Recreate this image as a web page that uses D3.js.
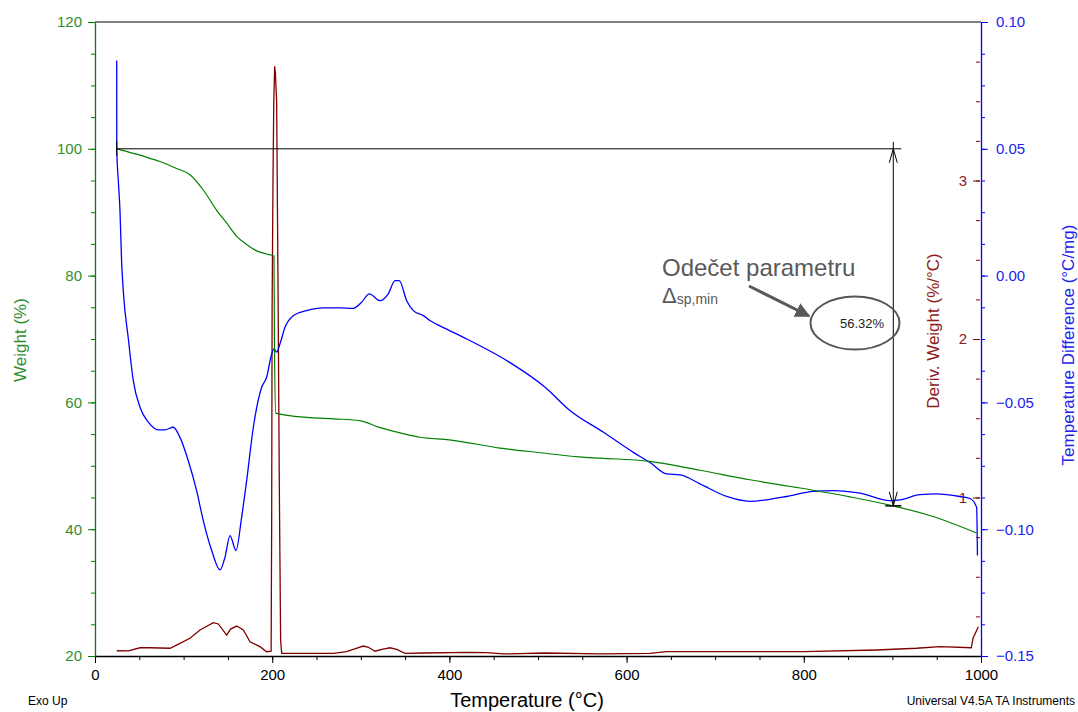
<!DOCTYPE html>
<html>
<head>
<meta charset="utf-8">
<script src="https://cdn.jsdelivr.net/npm/d3@7/dist/d3.min.js"></script>
<style>
  html, body { margin: 0; padding: 0; background: #fff; }
  svg { display: block; font-family: "Liberation Sans", Arial, sans-serif; }
</style>
</head>
<body>
<svg id="chart" width="1078" height="712"></svg>
<script>
// ---------------- DATA ----------------
const weightT = [24.5, 30, 40, 50.8, 62, 73.4, 92.2, 107.2, 122.2, 137.3, 148.6, 159.9, 169.3, 182.5, 193.7, 202, 202.5, 204, 215, 242.7, 270, 300, 320, 350, 367, 400, 457, 500, 547, 570, 626, 683, 739, 796, 852, 897, 946, 995];
const weightV = [100, 99.8, 99.4, 99.0, 98.5, 98.0, 96.9, 95.9, 93.5, 90.3, 88.3, 86.2, 85.1, 83.9, 83.4, 83.1, 70, 58.3, 58.0, 57.6, 57.4, 57.1, 56.1, 55.0, 54.5, 54.1, 52.8, 52.1, 51.4, 51.2, 50.7, 49.3, 47.8, 46.5, 45.1, 43.8, 42.0, 39.4];

const tdT = [24.5, 24.6, 26.3, 28.2, 30, 31.9, 37.6, 43.2, 50.8, 60.2, 71.4, 79, 88.4, 95.9, 105.3, 114.7, 122.2, 131.7, 141.1, 146.7, 152.4, 159.1, 165.5, 171.2, 178.7, 188.1, 193.7, 199.4, 202, 205, 208.8, 214.4, 223.8, 238.8, 257.7, 276.5, 291.5, 300.9, 309.6, 321.7, 331, 338.6, 343.4, 351.8, 359.3, 370.6, 378, 397, 423, 468, 508, 536, 574, 607.6, 626.4, 645.2, 660.3, 682.8, 712.9, 739.3, 758.1, 780.7, 810.8, 833.3, 863.4, 897.3, 908.6, 931.2, 950, 976, 987.6, 995.1, 996];
const tdV = [0.0848, 0.0493, 0.0375, 0.0256, 0.0059, -0.0059, -0.0248, -0.0414, -0.0519, -0.0578, -0.0608, -0.0608, -0.0598, -0.0638, -0.0730, -0.0848, -0.0966, -0.1084, -0.1160, -0.1111, -0.1025, -0.1084, -0.0953, -0.0808, -0.0598, -0.0440, -0.0401, -0.0309, -0.0289, -0.0302, -0.0269, -0.0204, -0.0158, -0.0138, -0.0127, -0.0127, -0.0129, -0.0105, -0.0072, -0.0099, -0.0072, -0.0020, -0.0020, -0.0099, -0.0138, -0.0158, -0.0177, -0.0211, -0.0256, -0.0342, -0.0440, -0.0532, -0.0618, -0.0697, -0.0737, -0.0782, -0.0786, -0.0821, -0.0871, -0.0890, -0.0884, -0.0871, -0.0851, -0.0848, -0.0858, -0.0887, -0.0884, -0.0864, -0.0861, -0.0871, -0.0879, -0.0914, -0.1104];

const derivT = [24.5, 37.6, 50.8, 62, 84.7, 95.9, 107.2, 118.5, 133.5, 139.2, 148.6, 153, 159.9, 167.4, 175, 186.2, 193.7, 198.8, 199.4, 199.9, 200.9, 201.8, 202.8, 203.6, 205, 206.5, 208, 209.5, 210.7, 269, 284, 291.5, 302.8, 308.5, 316, 325, 333, 340.5, 350, 370.6, 419.5, 442, 461, 508, 570, 626, 645, 800, 882, 927, 954, 989, 991, 997];
const derivV = [0.033, 0.032, 0.052, 0.052, 0.049, 0.080, 0.112, 0.164, 0.210, 0.202, 0.132, 0.17, 0.189, 0.164, 0.090, 0.059, 0.027, 0.03, 0.84, 2.2, 3.0, 3.5, 3.72, 3.68, 3.5, 2.4, 1.1, 0.1, 0.017, 0.017, 0.027, 0.042, 0.063, 0.055, 0.030, 0.044, 0.052, 0.042, 0.017, 0.019, 0.023, 0.021, 0.013, 0.019, 0.013, 0.017, 0.027, 0.027, 0.038, 0.049, 0.059, 0.052, 0.112, 0.185];

const xTicks = [0, 200, 400, 600, 800, 1000];
const weightTicks = [20, 40, 60, 80, 100, 120];
const tdTicks = [-0.15, -0.10, -0.05, 0.00, 0.05, 0.10];
const derivTicks = [1, 2, 3];

// ---------------- SETUP ----------------
const svg = d3.select("#chart");
const L = 95, R = 981, T = 22, B = 656;
const x = d3.scaleLinear([0, 1000], [L, R]);
const yW = d3.scaleLinear([20, 120], [B, T]);
const yT = d3.scaleLinear([-0.15, 0.10], [B, T]);
const yD = d3.scaleLinear([0, 4], [B, T]);

const GREEN = "#008000", GREEN_TXT = "#2f8f2f";
const BLUE = "#0000ff", BLUE_TXT = "#2222ee";
const RED = "#800000", RED_TXT = "#8b2020";

// top frame line
svg.append("line").attr("x1", L).attr("x2", R).attr("y1", T).attr("y2", T)
  .attr("stroke", "#000").attr("stroke-width", 1);

// ---------------- AXES ----------------
function styleAxis(g, color, txtColor, fs) {
  g.select(".domain").attr("stroke", color).attr("stroke-width", 1.3);
  g.selectAll(".tick line").attr("stroke", color);
  g.selectAll(".tick text").attr("fill", txtColor).attr("font-size", fs)
    .attr("font-family", "Liberation Sans, Arial, sans-serif");
}

const gxMinor = svg.append("g").attr("transform", `translate(0,${B})`)
  .call(d3.axisBottom(x).tickValues(d3.range(0, 1001, 50)).tickSize(4).tickFormat(""));
gxMinor.select(".domain").remove();
gxMinor.selectAll("line").attr("stroke", "#000");
const gx = svg.append("g").attr("transform", `translate(0,${B})`)
  .call(d3.axisBottom(x).tickValues(xTicks).tickSize(7).tickSizeOuter(0).tickPadding(6).tickFormat(d3.format("d")));
styleAxis(gx, "#000", "#000", 15);

const gwMinor = svg.append("g").attr("transform", `translate(${L},0)`)
  .call(d3.axisLeft(yW).tickValues(d3.range(20, 121, 5)).tickSize(4).tickFormat(""));
gwMinor.select(".domain").remove();
gwMinor.selectAll("line").attr("stroke", GREEN);
const gw = svg.append("g").attr("transform", `translate(${L},0)`)
  .call(d3.axisLeft(yW).tickValues(weightTicks).tickSize(7).tickSizeOuter(0).tickPadding(6).tickFormat(d3.format("d")));
styleAxis(gw, GREEN, GREEN_TXT, 15);

const gtMinor = svg.append("g").attr("transform", `translate(${R},0)`)
  .call(d3.axisRight(yT).tickValues(d3.range(0, 21).map(i => -0.15 + i * 0.0125)).tickSize(4).tickFormat(""));
gtMinor.select(".domain").remove();
gtMinor.selectAll("line").attr("stroke", BLUE);
const gt = svg.append("g").attr("transform", `translate(${R},0)`)
  .call(d3.axisRight(yT).tickValues(tdTicks).tickSize(7).tickSizeOuter(0).tickPadding(8).tickFormat(d3.format(".2f")));
styleAxis(gt, BLUE, BLUE_TXT, 15);

const gdMinor = svg.append("g").attr("transform", `translate(${R - 1},0)`)
  .call(d3.axisLeft(yD).tickValues(d3.range(1, 16).map(i => i * 0.25)).tickSize(4).tickFormat(""));
gdMinor.select(".domain").remove();
gdMinor.selectAll("line").attr("stroke", RED);
const gd = svg.append("g").attr("transform", `translate(${R - 1},0)`)
  .call(d3.axisLeft(yD).tickValues(derivTicks).tickSize(7).tickPadding(6).tickFormat(d3.format("d")));
gd.select(".domain").remove();
gd.selectAll(".tick line").attr("stroke", RED);
gd.selectAll(".tick text").attr("fill", RED_TXT).attr("font-size", 15);

// axis titles
svg.append("text").attr("transform", `translate(20,340) rotate(-90)`)
  .attr("text-anchor", "middle").attr("dy", "0.35em")
  .attr("fill", GREEN_TXT).attr("font-size", 17).text("Weight (%)");
svg.append("text").attr("transform", `translate(933,331) rotate(-90)`)
  .attr("text-anchor", "middle").attr("dy", "0.35em")
  .attr("fill", RED_TXT).attr("font-size", 17).text("Deriv. Weight (%/°C)");
svg.append("text").attr("transform", `translate(1068,345) rotate(-90)`)
  .attr("text-anchor", "middle").attr("dy", "0.35em")
  .attr("fill", BLUE_TXT).attr("font-size", 17).text("Temperature Difference (°C/mg)");
svg.append("text").attr("x", 527).attr("y", 707).attr("text-anchor", "middle")
  .attr("fill", "#000").attr("font-size", 20).text("Temperature (°C)");
svg.append("text").attr("x", 28).attr("y", 705)
  .attr("fill", "#000").attr("font-size", 12).text("Exo Up");
svg.append("text").attr("x", 1075).attr("y", 705).attr("text-anchor", "end")
  .attr("fill", "#000").attr("font-size", 12).text("Universal V4.5A TA Instruments");

// ---------------- CURVES ----------------
const zip = (a, b) => a.map((d, i) => [d, b[i]]);
const lineW = d3.line().x(d => x(d[0])).y(d => yW(d[1])).curve(d3.curveMonotoneX);
const lineT = d3.line().x(d => x(d[0])).y(d => yT(d[1])).curve(d3.curveMonotoneX);
const lineD = d3.line().x(d => x(d[0])).y(d => yD(d[1]));

svg.append("path").datum(zip(derivT, derivV)).attr("d", lineD)
  .attr("fill", "none").attr("stroke", RED).attr("stroke-width", 1.3);
svg.append("path").datum(zip(tdT, tdV)).attr("d", lineT)
  .attr("fill", "none").attr("stroke", BLUE).attr("stroke-width", 1.3);
svg.append("path").datum(zip(weightT, weightV)).attr("d", lineW)
  .attr("fill", "none").attr("stroke", GREEN).attr("stroke-width", 1.2);

// ---------------- ANNOTATION ----------------
const startT = 24.5, endT = 910, markT = 901, topW = 100, lowW = 100 - 56.32;
svg.append("line").attr("x1", x(startT)).attr("x2", x(endT)).attr("y1", yW(topW)).attr("y2", yW(topW))
  .attr("stroke", "#000").attr("stroke-width", 1);
svg.append("line").attr("x1", x(startT)).attr("x2", x(startT)).attr("y1", yW(topW) - 8).attr("y2", yW(topW) + 7)
  .attr("stroke", "#000").attr("stroke-width", 1);
const vx = x(markT), vy1 = yW(topW), vy2 = yW(lowW);
svg.append("line").attr("x1", vx).attr("x2", vx).attr("y1", vy1 - 7).attr("y2", vy2)
  .attr("stroke", "#000").attr("stroke-width", 1);
svg.append("path").attr("d", `M${vx - 4},${vy1 + 14} L${vx},${vy1} L${vx + 4},${vy1 + 14}`)
  .attr("fill", "none").attr("stroke", "#000").attr("stroke-width", 1);
svg.append("path").attr("d", `M${vx - 4},${vy2 - 14} L${vx},${vy2} L${vx + 4},${vy2 - 14}`)
  .attr("fill", "none").attr("stroke", "#000").attr("stroke-width", 1);
svg.append("line").attr("x1", vx - 8).attr("x2", vx + 8).attr("y1", vy2).attr("y2", vy2)
  .attr("stroke", "#000").attr("stroke-width", 1.5);

svg.append("ellipse").attr("cx", 855).attr("cy", 323).attr("rx", 44.5).attr("ry", 26.5)
  .attr("fill", "none").attr("stroke", "#555").attr("stroke-width", 2);
svg.append("text").attr("x", 862).attr("y", 323).attr("dy", "0.35em").attr("text-anchor", "middle")
  .attr("fill", "#222").attr("font-size", 13).text("56.32%");

svg.append("text").attr("x", 662).attr("y", 276).attr("fill", "#595959").attr("font-size", 24)
  .text("Odečet parametru");
const t2 = svg.append("text").attr("x", 662).attr("y", 303).attr("fill", "#595959").attr("font-size", 22);
t2.append("tspan").text("Δ");
t2.append("tspan").attr("font-size", 14).attr("dy", 1).text("sp,min");

svg.append("defs").append("marker").attr("id", "ah").attr("viewBox", "0 0 10 10")
  .attr("refX", 9).attr("refY", 5).attr("markerWidth", 5).attr("markerHeight", 5)
  .attr("orient", "auto").attr("markerUnits", "strokeWidth")
  .append("path").attr("d", "M0,0 L10,5 L0,10 Z").attr("fill", "#595959");
svg.append("line").attr("x1", 749).attr("y1", 286).attr("x2", 809).attr("y2", 316)
  .attr("stroke", "#595959").attr("stroke-width", 3).attr("marker-end", "url(#ah)");
</script>
</body>
</html>
